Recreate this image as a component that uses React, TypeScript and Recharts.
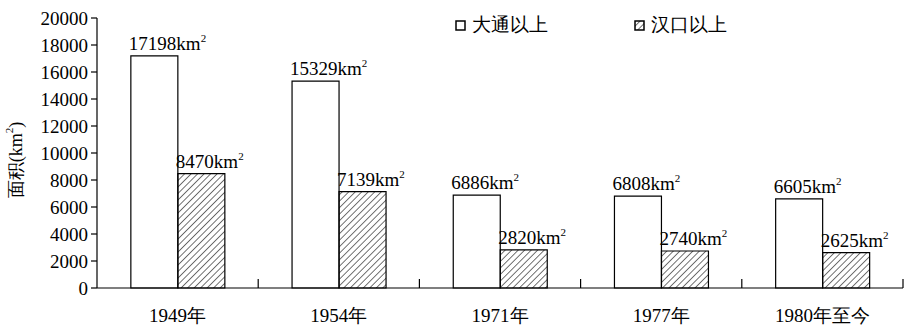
import { Bar, BarChart, Label, LabelList, Legend, XAxis, YAxis } from 'recharts';

const years = ['1949年', '1954年', '1971年', '1977年', '1980年至今'];
const datong = [17198, 15329, 6886, 6808, 6605];
const hankou = [8470, 7139, 2820, 2740, 2625];
const yTicks = [0, 2000, 4000, 6000, 8000, 10000, 12000, 14000, 16000, 18000, 20000];

const data = years.map((year, i) => ({ year, datong: datong[i], hankou: hankou[i] }));

const W = 905;
const H = 325;
const LEFT = 97;
const RIGHT = 2;
const AXIS_Y = 288;
const HALF_BAND = (W - LEFT - RIGHT) / years.length / 2;
const FONT = "'Liberation Serif', 'Times New Roman', 'DejaVu Serif', serif";
const txt = { fontFamily: FONT };

const XTick = ({ x, payload }: any) => (
  <g>
    <text x={x} y={322} textAnchor="middle" fontSize={19} style={txt} fill="#000">
      {payload.value}
    </text>
    <line x1={x + HALF_BAND} x2={x + HALF_BAND} y1={AXIS_Y} y2={AXIS_Y - 9} stroke="#000" strokeWidth={1.2} />
  </g>
);

const ValueLabel = ({ x, y, value }: any) => (
  <text x={x - 2} y={y - 6} fontSize={19} style={txt} fill="#000">
    {value}km
    <tspan dy={-8} fontSize={11}>
      2
    </tspan>
  </text>
);

const YTitle = () => (
  <text
    x={16}
    y={160}
    transform="rotate(-90 16 160)"
    textAnchor="middle"
    dominantBaseline="central"
    fontSize={18}
    style={txt}
    fill="#000"
  >
    面积(km
    <tspan dy={-7} fontSize={11}>
      2
    </tspan>
    <tspan dy={7}>)</tspan>
  </text>
);

const LegendContent = ({ payload }: any) => (
  <div style={{ display: 'flex', gap: 86, fontFamily: FONT, fontSize: 19, color: '#000' }}>
    {(payload || []).map((item: any) => (
      <div key={item.value} style={{ display: 'flex', alignItems: 'center', gap: 6 }}>
        <svg width={11} height={11}>
          <rect x={1} y={1} width={9} height={9} fill={item.payload?.fill ?? item.color} stroke="#000" strokeWidth={1.5} />
        </svg>
        <span>{item.value}</span>
      </div>
    ))}
  </div>
);

export default function App() {
  return (
    <div style={{ position: 'absolute', left: 0, top: 0, width: W, height: H, background: '#fff', fontFamily: FONT }}>
      <svg width={0} height={0} style={{ position: 'absolute' }}>
        <defs>
          <pattern id="hatch" width={4.6} height={4.6} patternUnits="userSpaceOnUse" patternTransform="rotate(45)">
            <line x1={0} y1={0} x2={0} y2={4.6} stroke="#000" strokeWidth={1.1} />
          </pattern>
        </defs>
      </svg>
      <BarChart
        width={W}
        height={H}
        data={data}
        margin={{ top: 18, right: RIGHT, bottom: 0, left: 0 }}
        barCategoryGap="21%"
        barGap={0}
        style={txt}
      >
        <XAxis
          dataKey="year"
          height={H - AXIS_Y}
          axisLine={{ stroke: '#000', strokeWidth: 1.2 }}
          tickLine={false}
          tick={<XTick />}
          interval={0}
        />
        <YAxis
          width={LEFT}
          domain={[0, 20000]}
          ticks={yTicks}
          interval={0}
          axisLine={{ stroke: '#000', strokeWidth: 1.2 }}
          tickLine={{ stroke: '#000', strokeWidth: 1.2 }}
          tickSize={6}
          tickMargin={3}
          tick={{ fill: '#000', fontSize: 19, style: txt }}
        >
          <Label content={<YTitle />} />
        </YAxis>
        <Legend
          layout="horizontal"
          align="center"
          verticalAlign="middle"
          content={<LegendContent />}
          wrapperStyle={{ position: 'absolute', top: 12, left: 455, width: 320 }}
        />
        <Bar dataKey="datong" name="大通以上" fill="#fff" stroke="#000" strokeWidth={1.2} isAnimationActive={false}>
          <LabelList dataKey="datong" content={<ValueLabel />} />
        </Bar>
        <Bar dataKey="hankou" name="汉口以上" fill="url(#hatch)" stroke="#000" strokeWidth={1.2} isAnimationActive={false}>
          <LabelList dataKey="hankou" content={<ValueLabel />} />
        </Bar>
      </BarChart>
    </div>
  );
}
